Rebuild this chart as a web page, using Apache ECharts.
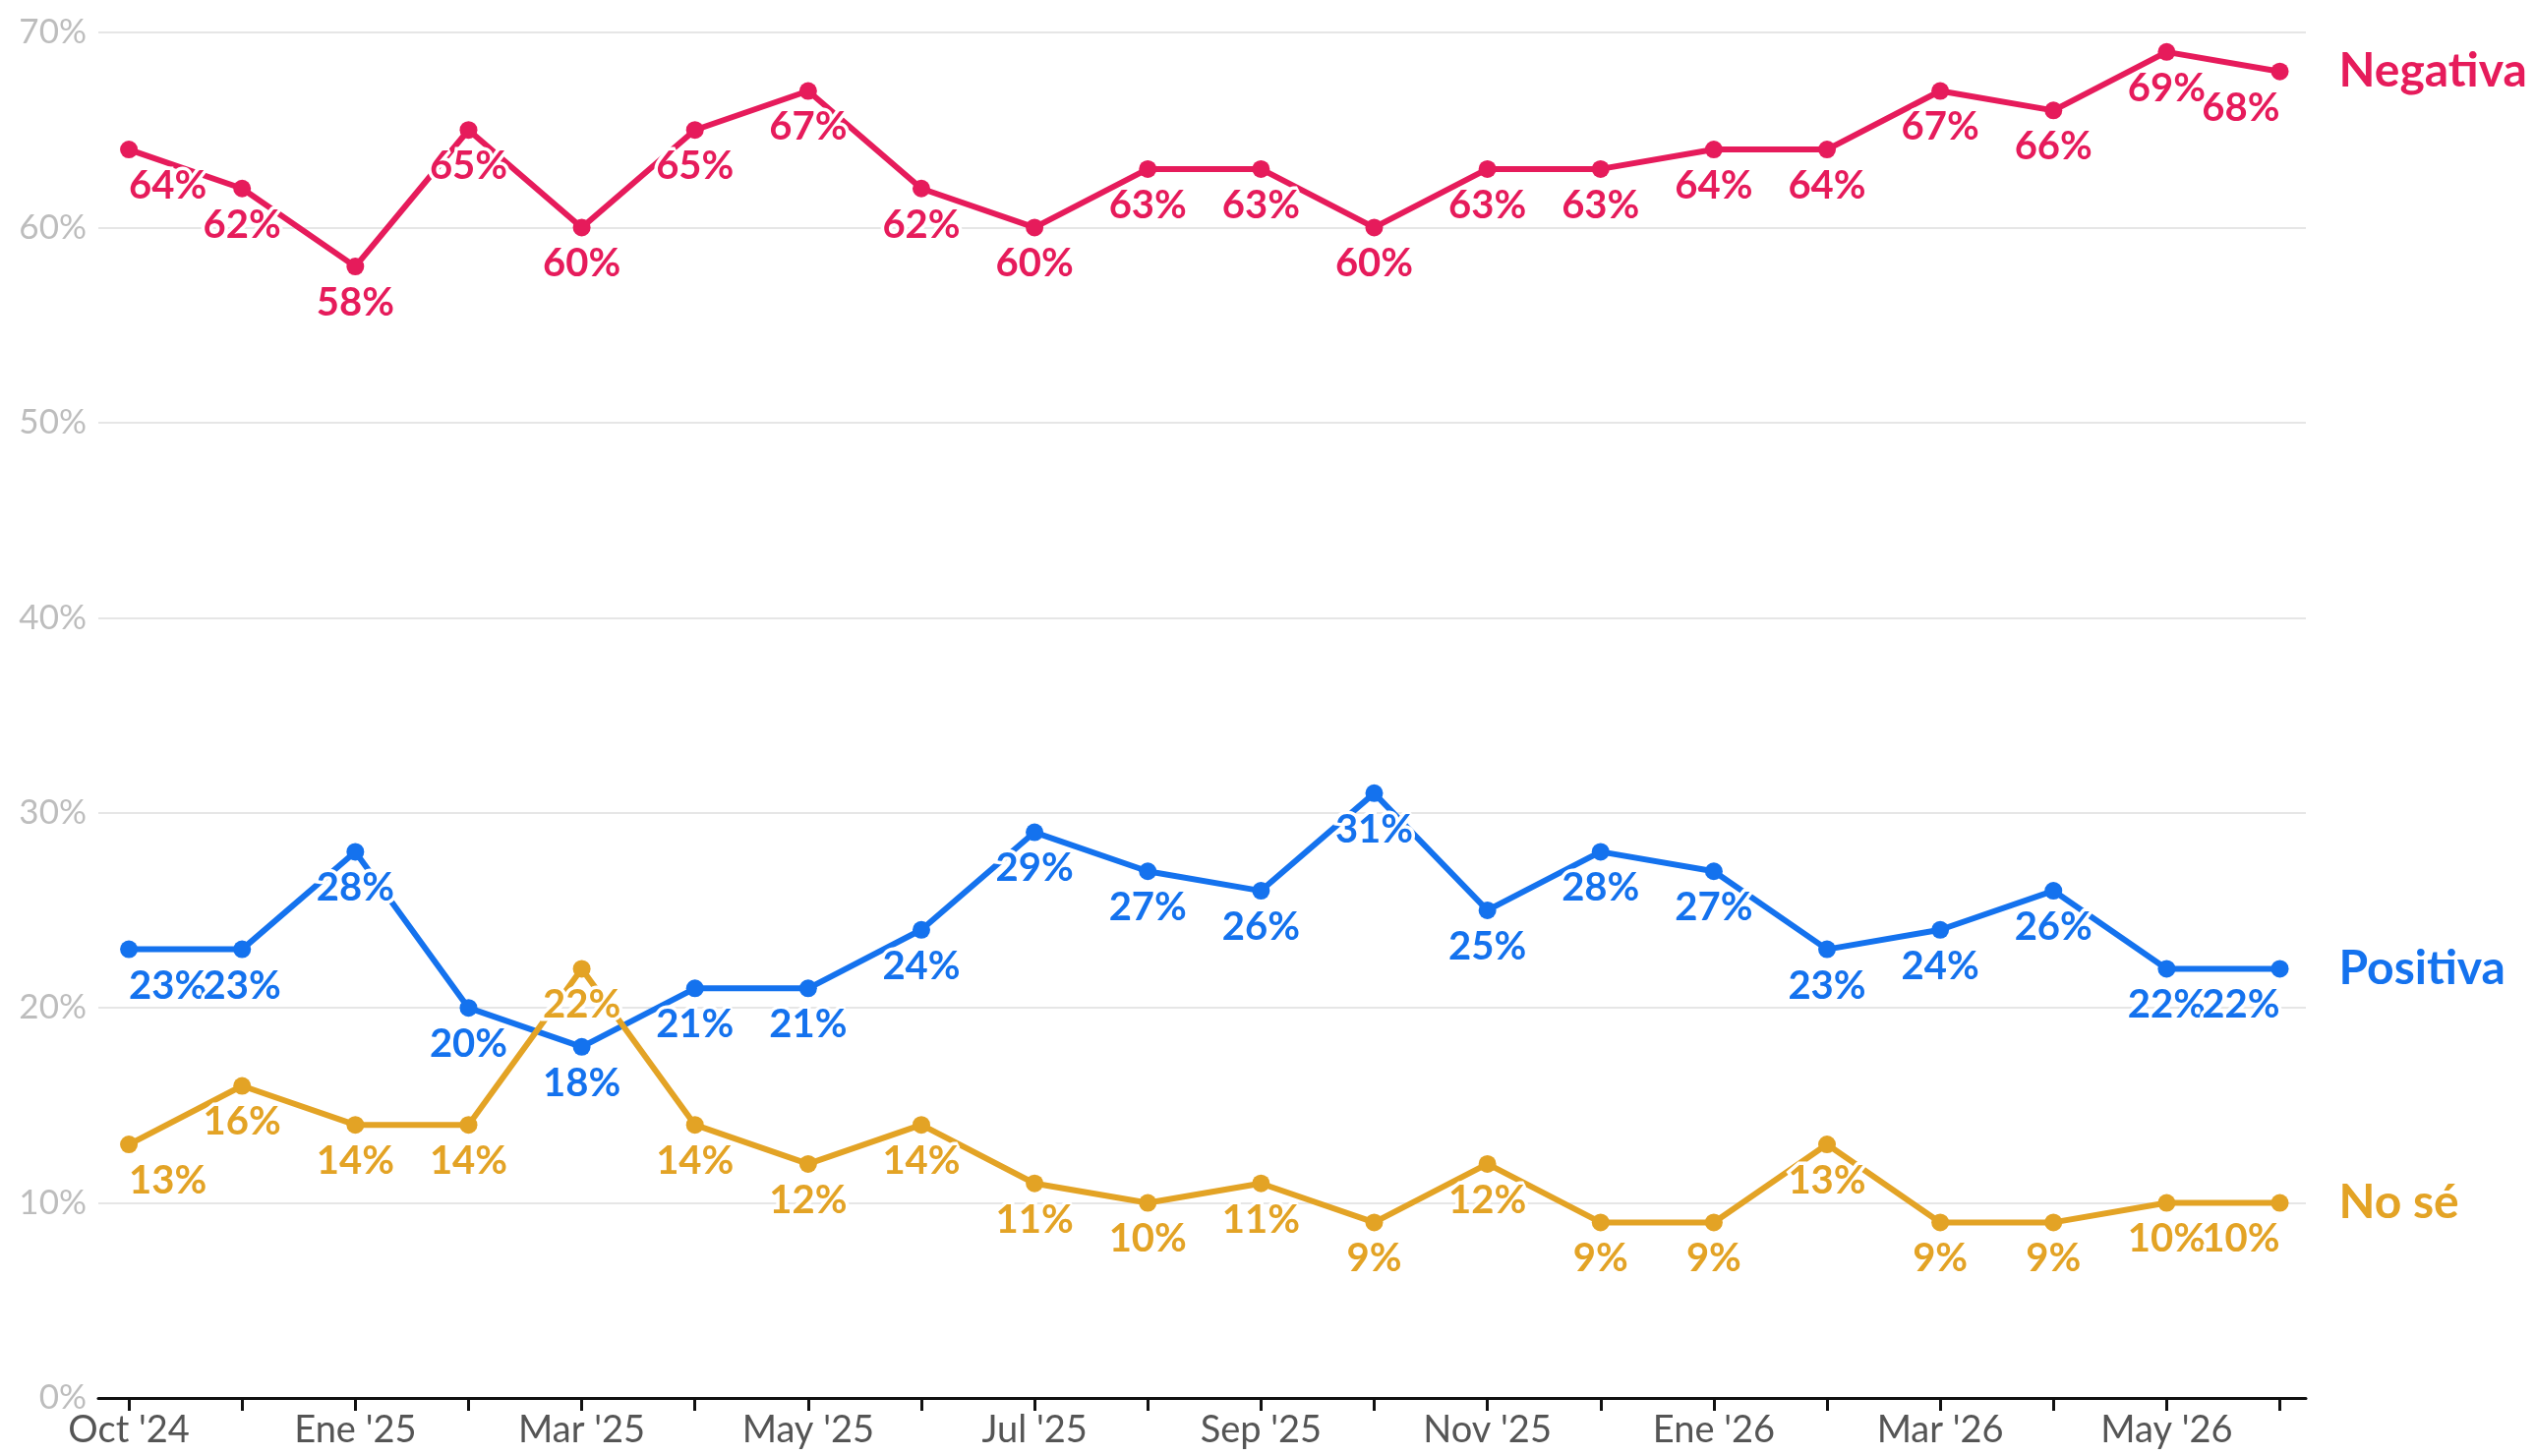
<!DOCTYPE html>
<html>
<head>
<meta charset="utf-8">
<script src="https://cdn.jsdelivr.net/npm/echarts@6/dist/echarts.min.js"></script>
<style>
html,body{margin:0;padding:0;background:#fff;}
#chart{width:2578px;height:1481px;}
</style>
</head>
<body>
<div id="chart"></div>
<script>
const categories = ["Oct '24","Nov '24","Ene '25","Feb '25","Mar '25","Abr '25","May '25","Jun '25","Jul '25","Ago '25","Sep '25","Oct '25","Nov '25","Dic '25","Ene '26","Feb '26","Mar '26","Abr '26","May '26","Jun '26"];
const labeledCategories = ["Oct '24","Ene '25","Mar '25","May '25","Jul '25","Sep '25","Nov '25","Ene '26","Mar '26","May '26"];
const negativa = [64,62,58,65,60,65,67,62,60,63,63,60,63,63,64,64,67,66,69,68];
const positiva = [23,23,28,20,18,21,21,24,29,27,26,31,25,28,27,23,24,26,22,22];
const nose = [13,16,14,14,22,14,12,14,11,10,11,9,12,9,9,13,9,9,10,10];
const yTicks = [0,10,20,30,40,50,60,70];

const FONT = 'Lato, "Noto Sans", sans-serif';
const chart = echarts.init(document.getElementById('chart'), null, {renderer:'canvas'});

function mkSeries(name, values, color) {
  const last = values.length - 1;
  return {
    name: name,
    type: 'line',
    data: values.map((v, i) => {
      const item = { value: [i, v] };
      if (i === 0) item.label = { align: 'left', offset: [-3, 0] };
      if (i === last) item.label = { align: 'right', offset: [3, 0] };
      return item;
    }),
    symbol: 'circle',
    symbolSize: 18,
    lineStyle: { color: color, width: 6 },
    itemStyle: { color: color },
    label: {
      show: true,
      position: 'bottom',
      distance: 8,
      color: color,
      fontFamily: FONT,
      fontWeight: 'bold',
      fontSize: 40,
      textBorderColor: '#fff',
      textBorderWidth: 7,
      formatter: p => p.value[1] + '%'
    },
    endLabel: {
      show: true,
      formatter: '{a}',
      color: color,
      fontFamily: FONT,
      fontWeight: 'bold',
      fontSize: 48,
      distance: 60
    },
    labelLayout: { hideOverlap: false },
    emphasis: { disabled: true },
    z: 3
  };
}

const option = {
  animation: false,
  backgroundColor: '#fff',
  grid: { left: 100, right: 233, top: 33, bottom: 59, containLabel: false },
  xAxis: {
    type: 'value',
    min: -0.27,
    max: 19.23,
    splitLine: { show: false },
    axisLine: { show: true, onZero: false, lineStyle: { color: '#111', width: 3 } },
    axisTick: {
      show: true,
      length: 13,
      lineStyle: { color: '#111', width: 3 },
      customValues: categories.map((c, i) => i)
    },
    axisLabel: {
      show: true,
      margin: 14,
      color: '#555',
      fontFamily: FONT,
      fontSize: 38,
      customValues: labeledCategories.map(c => categories.indexOf(c)),
      formatter: v => categories[Math.round(v)]
    }
  },
  yAxis: {
    type: 'value',
    min: 0,
    max: 70,
    interval: 10,
    axisLine: { show: false },
    axisTick: { show: false },
    splitLine: { show: true, lineStyle: { color: '#e6e6e6', width: 2 } },
    axisLabel: {
      margin: 12,
      color: '#bdbdbd',
      fontFamily: FONT,
      fontSize: 35,
      customValues: yTicks,
      formatter: v => v + '%'
    }
  },
  series: [
    mkSeries('Negativa', negativa, '#E61B5B'),
    mkSeries('Positiva', positiva, '#1472EE'),
    mkSeries('No sé', nose, '#E3A325')
  ]
};
chart.setOption(option);
</script>
</body>
</html>
